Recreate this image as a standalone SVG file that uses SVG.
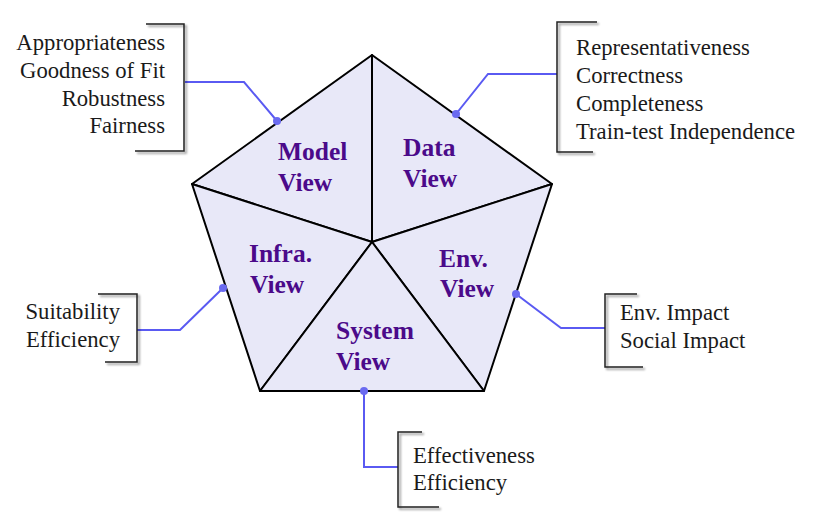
<svg xmlns="http://www.w3.org/2000/svg" width="814" height="516" viewBox="0 0 814 516">
  <defs>
    <filter id="shadow" x="-20%" y="-10%" width="150%" height="130%">
      <feDropShadow dx="2" dy="2" stdDeviation="1.2" flood-color="#000" flood-opacity="0.45"/>
    </filter>
  </defs>
  <style>
    .face { fill: #e8e8f8; stroke: #000; stroke-width: 2; stroke-linejoin: round; }
    .view { font-family: "Liberation Serif", "DejaVu Serif", serif; font-weight: bold; font-size: 25.5px; fill: #4b0a8a; }
    .item { font-family: "Liberation Serif", "DejaVu Serif", serif; font-size: 22.7px; fill: #1a1a1a; }
    .bracket { fill: none; stroke: #222; stroke-width: 1.5; filter: url(#shadow); }
    .link { fill: none; stroke: #5a5af2; stroke-width: 2; }
    .dot { fill: #6a6af0; }
    .r { text-anchor: end; }
  </style>
  <rect width="814" height="516" fill="#ffffff"/>

  <!-- five triangular faces of the pentagon -->
  <g id="model-view">
    <polygon class="face" points="372,242 372,55 192,184"/>
    <text class="view" x="278" y="160">Model</text>
    <text class="view" x="278" y="191">View</text>
  </g>
  <g id="data-view">
    <polygon class="face" points="372,242 372,55 552,184"/>
    <text class="view" x="403" y="156">Data</text>
    <text class="view" x="403" y="187">View</text>
  </g>
  <g id="infra-view">
    <polygon class="face" points="372,242 192,184 260,391"/>
    <text class="view" x="249" y="262">Infra.</text>
    <text class="view" x="250" y="293">View</text>
  </g>
  <g id="env-view">
    <polygon class="face" points="372,242 552,184 484,391"/>
    <text class="view" x="439" y="267">Env.</text>
    <text class="view" x="440" y="297">View</text>
  </g>
  <g id="system-view">
    <polygon class="face" points="372,242 260,391 484,391"/>
    <text class="view" x="336" y="339">System</text>
    <text class="view" x="336" y="370">View</text>
  </g>

  <!-- leader lines from the faces to the criteria lists -->
  <g id="connectors">
    <polyline class="link" points="277,121 244,82 185,82"/>
    <circle class="dot" cx="277" cy="121" r="4"/>
    <polyline class="link" points="456,114 488,74 557,74"/>
    <circle class="dot" cx="456" cy="114" r="4"/>
    <polyline class="link" points="223,288 180,330 137,330"/>
    <circle class="dot" cx="223" cy="288" r="4"/>
    <polyline class="link" points="516,294 561,328 605,328"/>
    <circle class="dot" cx="516" cy="294" r="4"/>
    <polyline class="link" points="364,391 364,467 398,467"/>
    <circle class="dot" cx="364" cy="391" r="4"/>
  </g>

  <!-- criteria lists with bracket callouts -->
  <g id="model-criteria">
    <path class="bracket" d="M146,24 H184 V151 H135"/>
    <text class="item r" x="165" y="50">Appropriateness</text>
    <text class="item r" x="165" y="78">Goodness of Fit</text>
    <text class="item r" x="165" y="106">Robustness</text>
    <text class="item r" x="165" y="133">Fairness</text>
  </g>
  <g id="data-criteria">
    <path class="bracket" d="M597,22 H557 V152 H593"/>
    <text class="item" x="576" y="55">Representativeness</text>
    <text class="item" x="576" y="83">Correctness</text>
    <text class="item" x="576" y="111">Completeness</text>
    <text class="item" x="576" y="139">Train-test Independence</text>
  </g>
  <g id="infra-criteria">
    <path class="bracket" d="M98,294 H137 V362 H105"/>
    <text class="item r" x="120" y="319">Suitability</text>
    <text class="item r" x="120" y="347">Efficiency</text>
  </g>
  <g id="env-criteria">
    <path class="bracket" d="M637,294 H605 V367 H643"/>
    <text class="item" x="620" y="320">Env. Impact</text>
    <text class="item" x="620" y="348">Social Impact</text>
  </g>
  <g id="system-criteria">
    <path class="bracket" d="M422,432 H398 V507 H439"/>
    <text class="item" x="413" y="463">Effectiveness</text>
    <text class="item" x="413" y="490">Efficiency</text>
  </g>
</svg>
